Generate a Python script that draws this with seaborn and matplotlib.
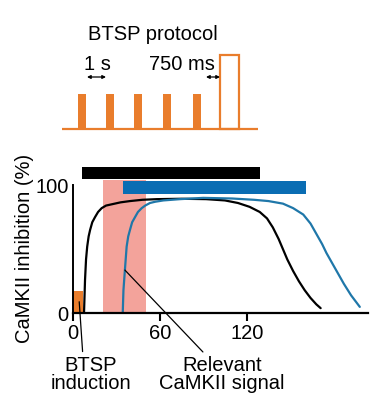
import matplotlib
matplotlib.use("Agg")
import matplotlib.pyplot as plt
import numpy as np
import pandas as pd
import seaborn as sns

# protocol schematic (arbitrary time units)
pulse_onsets = [16, 44, 72, 101, 131]
pulse_width = 8
pulse_height = 35
plateau_onset = 158
plateau_width = 19
plateau_height = 74
baseline_end = 196

# CaMKII inhibition time courses (x in s, y in %)
black_t = [7.8, 8.5, 9.2, 10, 11, 12, 13.5, 15.4, 17.5, 20, 23, 27, 33, 39.5, 48, 58,
           75, 92, 105, 114, 122, 129, 134, 138, 142, 145, 148, 152, 156, 160, 164, 168, 171]
black_v = [0, 26, 42, 52, 60, 65, 71, 75, 79, 82, 84, 85, 86.5, 87.5, 88.5, 89,
           89.3, 89, 88, 86, 83, 79, 74, 67, 58, 50, 42, 33, 25, 18, 12, 7, 4]
blue_t = [34.5, 35, 36, 37.2, 38.3, 39.5, 41, 43, 45, 47.6, 50, 53.3, 57, 62.5, 74,
          90, 110, 125, 135, 145, 152, 159, 164, 168, 172, 175, 178, 182, 187, 192, 198]
blue_v = [0, 18, 33.7, 52, 60, 65, 71, 75, 79, 82, 84, 86, 87, 88, 89,
          90, 89.5, 88.5, 87.5, 85.5, 82, 77, 70, 62, 54, 47, 41, 33, 23, 14, 5]

black_bar = (6.4, 129.2)
blue_bar = (34.7, 160.7)
relevant_window = (20.7, 50.5)
induction_window = (-0.7, 7.3)
induction_height = 17.4

ORANGE = "#e97d2c"
BLUE_BAR = "#0a6db3"
BLUE_LINE = "#1f77a9"
SALMON = "#f3a39b"

sns.set_style("white")
plt.rcParams["font.family"] = ["Liberation Sans", "DejaVu Sans"]
plt.rcParams["text.color"] = "black"
plt.rcParams["axes.labelcolor"] = "black"
plt.rcParams["xtick.color"] = "black"
plt.rcParams["ytick.color"] = "black"
FS = 14.5

fig = plt.figure(figsize=(3.71, 4.07), dpi=100)

# ---- protocol panel ----
axp = fig.add_axes([50 / 371, 1 - 135 / 407, 220 / 371, 115 / 407])
axp.set_xlim(-12, 208)
axp.set_ylim(-6, 109)
axp.axis("off")
axp.plot([0, baseline_end], [0, 0], color=ORANGE, lw=1.6, solid_capstyle="butt")
axp.bar(pulse_onsets, [pulse_height] * len(pulse_onsets), width=pulse_width,
        align="edge", color=ORANGE, linewidth=0)
axp.bar([plateau_onset], [plateau_height], width=plateau_width, align="edge",
        facecolor="none", edgecolor=ORANGE, linewidth=1.6)
axp.text(91, 94, "BTSP protocol", ha="center", va="center", fontsize=FS)
axp.text(35, 64, "1 s", ha="center", va="center", fontsize=FS)
axp.text(120, 64, "750 ms", ha="center", va="center", fontsize=FS)
for a, b in [(pulse_onsets[0] + pulse_width + 1, pulse_onsets[1]),
             (pulse_onsets[-1] + pulse_width + 5, plateau_onset)]:
    axp.annotate("", xy=(b, 52), xytext=(a, 52),
                 arrowprops=dict(arrowstyle="<|-|>", lw=0.9, color="black",
                                 mutation_scale=5, shrinkA=0, shrinkB=0))

# ---- main panel ----
ax = fig.add_axes([71.25 / 371, 93.7 / 407, 297.25 / 371, 147.5 / 407])
ax.set_xlim(-1, 204)
ax.set_ylim(0, 115)

ax.axvspan(*relevant_window, ymin=0, ymax=104 / 115, color=SALMON, lw=0, zorder=0)
ax.fill_between(induction_window, 0, induction_height, color=ORANGE, lw=0, zorder=1)
ax.barh(109.5, black_bar[1] - black_bar[0], left=black_bar[0], height=9,
        color="black", lw=0)
ax.barh(98, blue_bar[1] - blue_bar[0], left=blue_bar[0], height=10,
        color=BLUE_BAR, lw=0)

df_black = pd.DataFrame({"t": black_t, "v": black_v})
df_blue = pd.DataFrame({"t": blue_t, "v": blue_v})
sns.lineplot(data=df_black, x="t", y="v", color="black", lw=1.6, ax=ax, sort=False)
sns.lineplot(data=df_blue, x="t", y="v", color=BLUE_LINE, lw=1.6, ax=ax, sort=False)

sns.despine(ax=ax, top=True, right=True)
ax.spines["left"].set_position(("data", 0))
ax.spines["left"].set_bounds(0, 100)
ax.spines["bottom"].set_bounds(0, 203.5)
ax.spines["left"].set_linewidth(1.4)
ax.spines["bottom"].set_linewidth(1.6)
ax.spines["left"].set_color("black")
ax.spines["bottom"].set_color("black")

ax.set_xticks([0, 60, 120])
ax.set_yticks([0, 100])
ax.tick_params(axis="x", length=6, width=1.5, direction="out", pad=2, labelsize=FS,
               bottom=True, colors="black")
ax.tick_params(axis="y", length=0, pad=3, labelsize=FS, left=True, colors="black")
ax.set_xlabel("")
ax.set_ylabel("CaMKII inhibition (%)", fontsize=FS)
ax.yaxis.set_label_coords(-0.125, 0.44)

ax.annotate("BTSP\ninduction", xy=(4.5, 9), xytext=(12.6, -48),
            textcoords="data", ha="center", va="center", fontsize=FS,
            linespacing=0.95, annotation_clip=False,
            arrowprops=dict(arrowstyle="-", lw=0.9, color="black", relpos=(0.4, 1),
                            shrinkA=1, shrinkB=0))
ax.annotate("Relevant\nCaMKII signal", xy=(36, 33.7), xytext=(103, -48),
            textcoords="data", ha="center", va="center", fontsize=FS,
            linespacing=0.95, annotation_clip=False,
            arrowprops=dict(arrowstyle="-", lw=0.9, color="black", relpos=(0.38, 1),
                            shrinkA=1, shrinkB=0))

fig.savefig("out.png", dpi=100)
